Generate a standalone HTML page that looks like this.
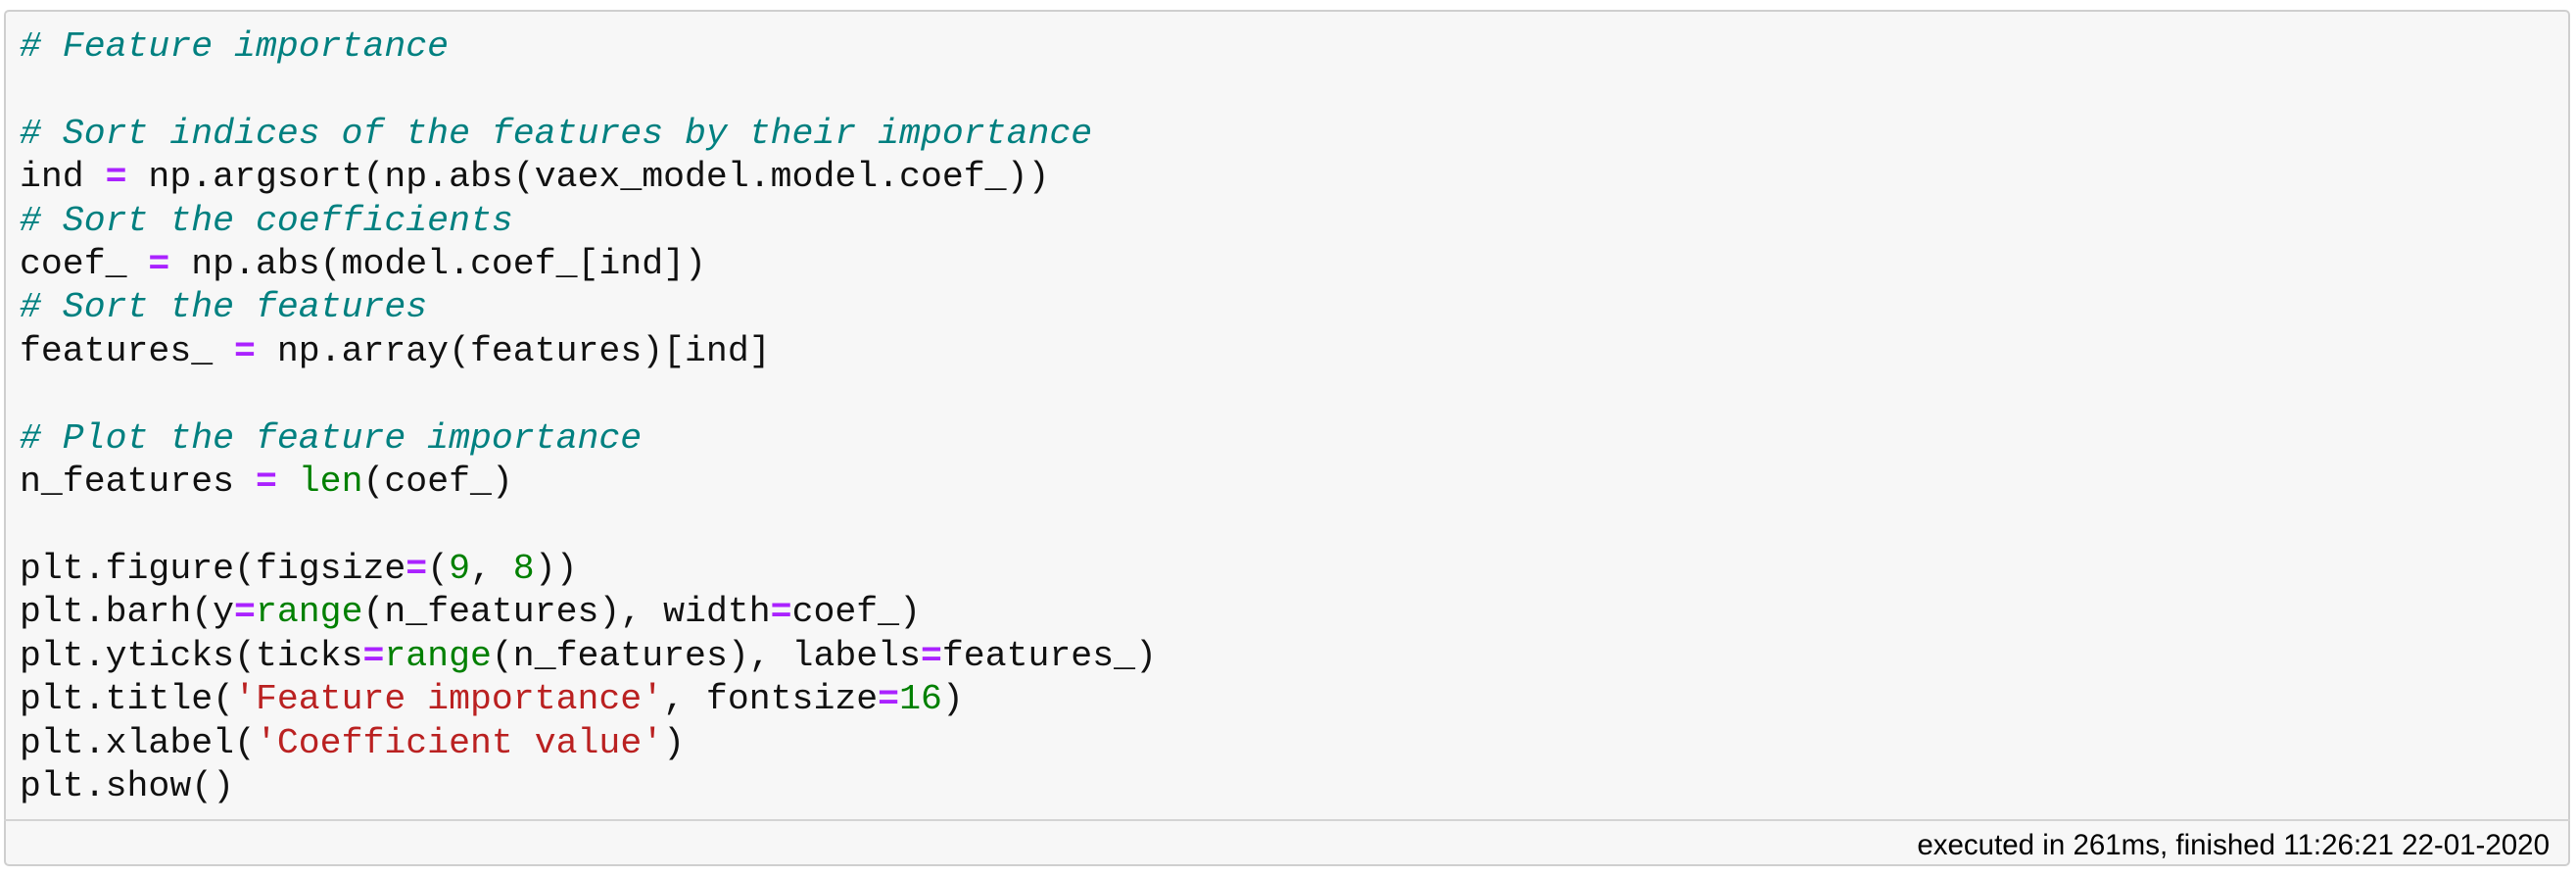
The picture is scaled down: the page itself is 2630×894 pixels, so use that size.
<!DOCTYPE html>
<html><head><meta charset="utf-8"><style>
html,body{margin:0;padding:0;width:2630px;height:894px;background:#fff;overflow:hidden}
.box{position:absolute;left:4px;top:10px;width:2620px;height:874px;background:#f7f7f7;border:2px solid #cfcfcf;border-radius:5px;box-sizing:border-box}
pre{position:absolute;left:20px;top:26px;margin:0;font-family:"Liberation Mono",monospace;font-size:36.5px;line-height:44.4px;color:#111}
.c{color:#008080;font-style:italic}
.o{color:#AA22FF;font-weight:bold}
.b{color:#008000}
.s{color:#BA2121}
.div{position:absolute;left:4px;top:836px;width:2620px;height:2px;background:#d4d4d4}
.foot{position:absolute;right:27px;top:846px;font-family:"Liberation Sans",sans-serif;font-size:29.5px;line-height:34px;color:#000}
</style></head><body>
<div class="box"></div>
<pre><span class="c"># Feature importance</span>

<span class="c"># Sort indices of the features by their importance</span>
ind <span class="o">=</span> np.argsort(np.abs(vaex_model.model.coef_))
<span class="c"># Sort the coefficients</span>
coef_ <span class="o">=</span> np.abs(model.coef_[ind])
<span class="c"># Sort the features</span>
features_ <span class="o">=</span> np.array(features)[ind]

<span class="c"># Plot the feature importance</span>
n_features <span class="o">=</span> <span class="b">len</span>(coef_)

plt.figure(figsize<span class="o">=</span>(<span class="b">9</span>, <span class="b">8</span>))
plt.barh(y<span class="o">=</span><span class="b">range</span>(n_features), width<span class="o">=</span>coef_)
plt.yticks(ticks<span class="o">=</span><span class="b">range</span>(n_features), labels<span class="o">=</span>features_)
plt.title(<span class="s">'Feature importance'</span>, fontsize<span class="o">=</span><span class="b">16</span>)
plt.xlabel(<span class="s">'Coefficient value'</span>)
plt.show()</pre>
<div class="div"></div>
<div class="foot">executed in 261ms, finished 11:26:21 22-01-2020</div>
</body></html>
